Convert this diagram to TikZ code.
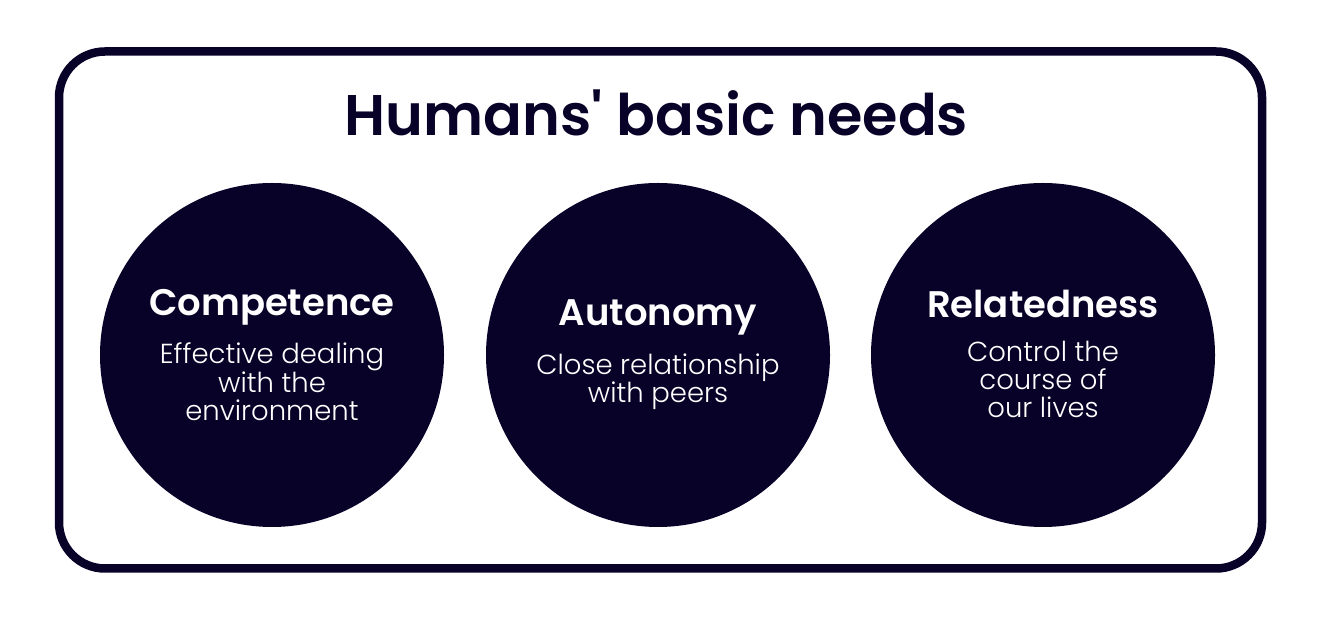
\documentclass[tikz,border=0pt]{standalone}
\usepackage{fontspec}
\setmainfont{Poppins Light}
\newfontfamily\headfont{Poppins SemiBold}
\definecolor{navy}{HTML}{080228}

\tikzset{
  frame/.style={draw=navy, line width=8.5pt, rounded corners=46pt},
  needcircle/.style={circle, fill=navy, minimum size=344pt, inner sep=0pt},
  needtitle/.style={anchor=base, text=white, inner sep=0pt, font=\headfont\fontsize{37}{37}\selectfont},
  needtext/.style={anchor=base, text=white, inner sep=0pt, align=center, font=\fontsize{27.5}{28}\selectfont}
}

\begin{document}
\begin{tikzpicture}[x=1pt, y=1pt]

\useasboundingbox (0,0) rectangle (1321,620);

%frame
\draw[frame] (59,51.5) rectangle (1262,568.5);

%title
\node[anchor=base, text=navy, inner sep=0pt, font=\headfont\fontsize{57.3}{57}\selectfont] (title) at (656.5,484) {Humans' basic needs};

%circles
\node[needcircle] (competence) at (272,265) {};
\node[needcircle] (autonomy) at (658,265) {};
\node[needcircle] (relatedness) at (1043,265) {};

%labels (base of a text node is its last line)
\node[needtitle] (competence title) at (272,304) {Competence};
\node[needtext] (competence text) at (272,199) {Effective dealing\\with the\\environment};

\node[needtitle] (autonomy title) at (658,294) {Autonomy};
\node[needtext] (autonomy text) at (658,217) {Close relationship\\with peers};

\node[needtitle] (relatedness title) at (1043,302) {Relatedness};
\node[needtext] (relatedness text) at (1043,202) {Control the\\course of\\our lives};

\end{tikzpicture}
\end{document}
